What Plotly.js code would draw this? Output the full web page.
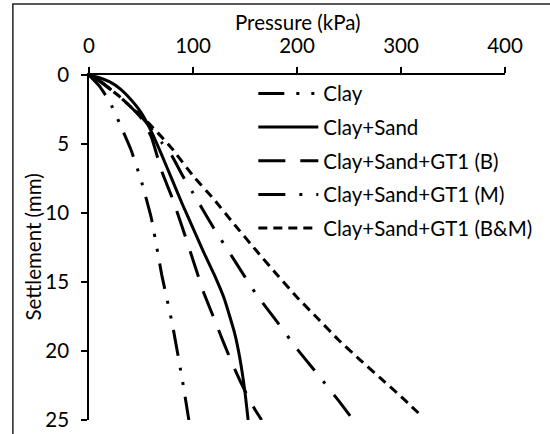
<!DOCTYPE html>
<html>
<head>
<meta charset="utf-8">
<script src="https://cdn.plot.ly/plotly-3.0.1.min.js"></script>
<style>html,body{margin:0;padding:0;background:#fff;}#chart{width:550px;height:434px;}</style>
</head>
<body>
<div id="chart"></div>
<script>
// Pressure (kPa) vs Settlement (mm)
const seriesNames = ["Clay", "Clay+Sand", "Clay+Sand+GT1 (B)", "Clay+Sand+GT1 (M)", "Clay+Sand+GT1 (B&M)"];

const clayP = [0, 10, 20, 30, 40, 50, 60, 70, 80, 90, 96];
const clayS = [0, 0.8, 1.95, 3.6, 5.35, 7.6, 10.4, 14.5, 18.0, 22.2, 25];

const claySandP = [0, 10, 20, 30, 40, 50, 60, 70, 80, 90, 100, 110, 120, 130, 140, 145, 150, 153];
const claySandS = [0, 0.2, 0.5, 1.0, 1.75, 2.7, 4.1, 5.8, 7.6, 9.4, 11.1, 12.8, 14.4, 16.2, 18.7, 20.5, 23.0, 25];

const gtBP = [0, 10, 20, 30, 40, 50, 60, 70, 80, 90, 100, 110, 120, 130, 140, 150, 160, 166];
const gtBS = [0, 0.45, 1.0, 1.6, 2.3, 3.1, 4.5, 7.0, 8.9, 11.1, 13.4, 15.7, 17.6, 19.5, 21.3, 22.9, 24.3, 25];

const gtMP = [0, 10, 20, 30, 40, 50, 60, 70, 80, 90, 100, 120, 140, 160, 180, 200, 220, 240, 254];
const gtMS = [0, 0.4, 1.0, 1.6, 2.3, 3.0, 3.9, 4.9, 5.9, 7.3, 8.55, 11.1, 13.45, 15.8, 17.8, 19.85, 21.7, 23.6, 25];

const gtBMP = [0, 10, 20, 30, 40, 50, 60, 70, 80, 100, 120, 140, 160, 180, 200, 220, 240, 260, 280, 300, 321];
const gtBMS = [0, 0.4, 1.0, 1.6, 2.3, 2.9, 3.7, 4.5, 5.35, 7.3, 9.0, 10.85, 12.65, 14.4, 16.1, 17.65, 19.2, 20.6, 21.95, 23.3, 24.8];

const xTicks = [0, 100, 200, 300, 400];
const yTicks = [0, 5, 10, 15, 20, 25];
const xTitle = "Pressure (kPa)";
const yTitle = "Settlement (mm)";

const FONT = "Lato, 'Open Sans', sans-serif";
const FS = 20.5;
const dashes = ["26px,12px,3px,12px,3px,12px", "solid", "27px,15px", "27px,14px,3px,14px", "9px,6px"];
const xs = [clayP, claySandP, gtBP, gtMP, gtBMP];
const ys = [clayS, claySandS, gtBS, gtMS, gtBMS];

const traces = seriesNames.map((n, i) => ({
  x: xs[i], y: ys[i], name: n, type: "scatter", mode: "lines",
  legendgroup: "g" + i,
  line: {color: "#000", width: 3, dash: dashes[i], shape: "spline", smoothing: 0.4}
}));

const layout = {
  width: 550, height: 434,
  margin: {l: 89, r: 45, t: 75, b: 14},
  paper_bgcolor: "#fff", plot_bgcolor: "#fff",
  font: {family: FONT, size: FS, color: "#000"},
  showlegend: true,
  legend: {
    x: 0.395, y: 1.004, xanchor: "left", yanchor: "top",
    bgcolor: "rgba(0,0,0,0)", borderwidth: 0,
    font: {family: FONT, size: FS, color: "#000"},
    traceorder: "grouped", tracegroupgap: 4, itemwidth: 60
  },
  xaxis: {
    range: [0, 400], side: "top", tickvals: xTicks, ticks: "outside", ticklen: 6, tickwidth: 1.75,
    tickcolor: "#000", showline: true, linecolor: "#000", linewidth: 1.75,
    showgrid: false, zeroline: false, tickfont: {size: FS}, ticklabelstandoff: 6
  },
  yaxis: {
    range: [25, 0], tickvals: yTicks, ticks: "outside", ticklen: 6, tickwidth: 1.75,
    tickcolor: "#000", showline: true, linecolor: "#000", linewidth: 1.75,
    showgrid: false, zeroline: false, tickfont: {size: FS}, ticklabelstandoff: 8
  },
  annotations: [
    {text: xTitle, xref: "paper", yref: "paper", x: 0.5, y: 1.154, xanchor: "center", yanchor: "middle",
     showarrow: false, font: {family: FONT, size: FS, color: "#000"}},
    {text: yTitle, xref: "paper", yref: "paper", x: -0.137, y: 0.5, xanchor: "center", yanchor: "middle",
     textangle: -90, showarrow: false, font: {family: FONT, size: FS, color: "#000"}}
  ],
  shapes: [{
    type: "rect", xref: "paper", yref: "paper",
    x0: -0.183, x1: 1.13, y0: -0.07, y1: 1.2058,
    line: {color: "#222", width: 1.5}, fillcolor: "rgba(0,0,0,0)", layer: "above"
  }]
};

Plotly.newPlot("chart", traces, layout, {staticPlot: true, displayModeBar: false});
</script>
</body>
</html>
